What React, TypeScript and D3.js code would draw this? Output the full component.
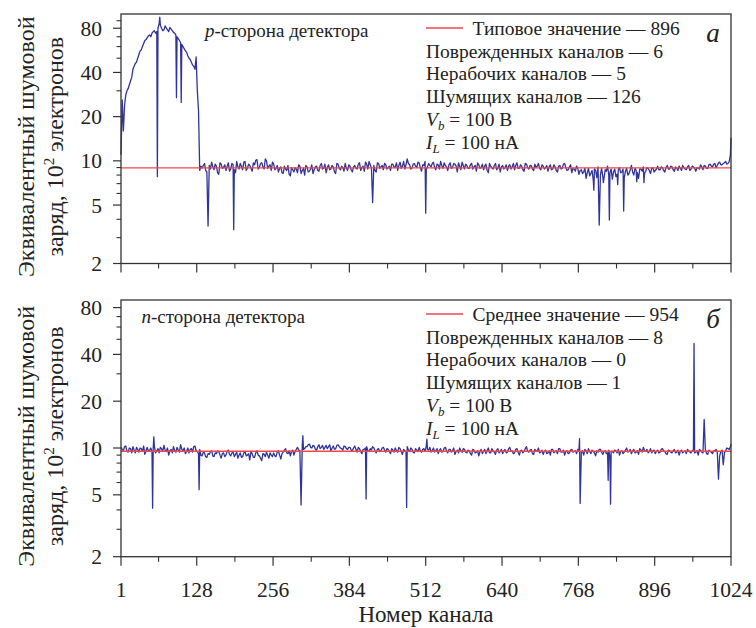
import React from "react";
import * as d3 from "d3";

// ---------- data ----------
// channel numbers 1..1024
// *Base arrays: channels 1, 5, 9, ... (1 + 4*i); *Mid arrays: channels 3, 7, 11, ... (3 + 4*j)
const xTicksMajor = [1, 128, 256, 384, 512, 640, 768, 896, 1024];
const xTicksMinor = [64, 192, 320, 448, 576, 704, 832, 960];
const yTicksMajor = [2, 5, 10, 20, 40, 80];
const yTicksMinor = [3, 4, 6, 7, 8, 9, 30, 50, 60, 70, 90];

// p-side (panel a)
const pBase = [
  11, 16, 28, 31, 35, 42, 46, 50, 56, 60, 66, 69, 72, 74, 77, 76,
  86, 80, 78, 80, 76, 79, 75, 72, 68, 64, 60, 56, 52, 49, 45, 42,
  30, 8.6,
  8.9, 9.6, 8.4, 9.3, 9.8, 8.7, 9.2, 8.1, 9.5, 9.0, 8.6, 9.7, 8.8, 9.4, 8.3, 9.1,
  9.6, 8.7, 9.9, 8.9, 9.3, 8.5, 9.4, 10.2, 9.0, 9.7, 8.8, 10.0, 9.2, 8.6, 9.5, 8.9,
  8.4, 9.1, 8.2, 8.8, 9.3, 7.9, 8.7, 9.0, 8.3, 9.2, 8.6, 8.0, 9.1, 8.5, 9.4, 8.7,
  9.2, 8.5, 9.6, 8.9, 8.3, 9.4, 8.8, 9.1, 8.2, 9.5, 8.7, 9.0, 9.6, 8.6, 9.2, 8.4,
  9.3, 8.8, 9.7, 9.0, 8.5, 9.5, 9.9, 8.9, 9.3, 8.4, 9.6, 9.1, 8.7, 9.4, 9.0, 8.6,
  9.5, 9.1, 8.6, 9.8, 9.2, 8.8, 10.3, 9.4, 8.9, 9.6, 9.0, 9.7, 8.5, 9.3, 8.8, 9.6,
  9.1, 9.8, 8.7, 9.4, 9.9, 8.9, 9.3, 8.6, 9.7, 9.0, 9.5, 8.4, 9.2, 9.8, 8.8, 9.3,
  8.9, 9.6, 9.1, 8.5, 9.4, 9.0, 8.7, 9.5, 8.3, 9.2, 8.8, 9.6, 8.9, 8.4, 9.3, 9.0,
  8.6, 9.4, 9.1, 8.7, 9.7, 8.9, 9.2, 8.5, 9.5, 8.8, 9.3, 8.6, 9.0, 9.6, 8.7, 9.2,
  9.0, 8.5, 9.4, 8.8, 9.1, 8.4, 9.3, 8.9, 9.6, 8.6, 9.1, 8.3, 8.8, 9.2, 8.1, 8.7,
  8.4, 7.6, 8.9, 8.2, 7.4, 8.6, 9.1, 8.0, 7.8, 8.7, 9.2, 8.3, 7.5, 8.8, 8.1, 9.0,
  8.4, 7.7, 8.9, 8.2, 9.3, 8.0, 8.6, 7.6, 8.8, 9.1, 8.5, 8.9, 8.2, 9.0, 8.6, 9.2,
  8.7, 9.0, 8.4, 9.3, 8.8, 9.1, 8.5, 8.9, 9.2, 8.6, 9.0, 8.7, 9.3, 8.8, 9.1, 8.5,
  9.0, 9.4, 8.7, 9.2, 8.9, 9.5, 9.1, 9.6, 9.3, 9.8, 9.4, 9.7, 9.5, 9.9,
];
const pMid = [
  26, 24, 30, 33, 37, 44, 47, 53, 57, 63, 67, 71, 70, 76, 74, 80,
  84, 77, 83, 78, 81, 77, 74, 70, 66, 62, 58, 55, 50, 47, 44, 51,
  22, 9.2,
  9.3, 8.6, 9.9, 8.8, 9.1, 9.5, 8.3, 9.7, 8.9, 9.4, 9.2, 8.5, 9.6, 8.7, 9.9, 8.8,
  9.2, 9.8, 8.6, 9.5, 8.9, 9.7, 10.1, 8.8, 9.6, 9.1, 10.3, 8.9, 9.4, 9.8, 8.7, 9.3,
  8.9, 8.3, 9.2, 8.6, 8.1, 9.0, 8.4, 8.8, 9.4, 8.2, 8.9, 9.3, 8.4, 8.8, 8.2, 9.1,
  8.6, 9.3, 8.8, 9.5, 9.0, 8.7, 9.3, 8.4, 9.6, 8.9, 9.2, 8.5, 8.9, 9.4, 8.7, 9.1,
  8.9, 9.5, 8.6, 9.2, 9.8, 8.8, 9.4, 9.1, 8.6, 9.7, 8.9, 9.3, 9.6, 8.8, 9.2, 9.5,
  9.0, 9.7, 9.3, 8.9, 9.9, 9.4, 9.6, 8.8, 9.5, 9.2, 9.8, 9.0, 9.4, 9.9, 9.1, 9.3,
  9.6, 9.0, 9.5, 8.8, 9.3, 9.7, 9.1, 9.4, 8.9, 9.6, 9.2, 9.7, 8.7, 9.3, 9.5, 8.9,
  9.4, 8.8, 9.3, 9.7, 8.9, 9.5, 9.2, 8.6, 9.6, 9.0, 9.3, 8.7, 9.5, 9.1, 8.8, 9.4,
  9.2, 8.8, 9.6, 9.3, 8.9, 9.4, 8.7, 9.6, 9.0, 9.3, 8.8, 9.5, 9.2, 8.9, 9.4, 8.8,
  9.3, 9.1, 8.7, 9.4, 8.6, 9.2, 8.8, 9.5, 9.0, 8.7, 9.4, 8.9, 8.5, 8.9, 8.6, 8.2,
  8.9, 8.3, 7.9, 8.6, 8.8, 7.7, 8.4, 8.9, 7.6, 8.5, 8.0, 8.8, 8.4, 7.8, 8.7, 8.3,
  8.8, 8.5, 8.0, 8.7, 8.4, 8.9, 8.3, 8.8, 8.5, 8.2, 9.0, 8.6, 8.9, 8.4, 8.8, 8.7,
  9.1, 8.6, 9.0, 8.8, 9.2, 8.7, 9.1, 8.6, 8.9, 9.3, 8.8, 9.1, 8.6, 9.2, 8.9, 9.0,
  8.8, 9.1, 9.3, 8.9, 9.4, 9.2, 9.5, 9.0, 9.7, 9.4, 9.6, 9.9, 9.6, 11,
];
const pSpikeChannels = [62, 66, 94, 102, 147, 190, 423, 512, 794, 803, 810, 820, 834, 844, 866, 878, 1024];
const pSpikeValues = [7.8, 95, 27, 25, 3.6, 3.4, 5.2, 4.4, 6.3, 3.65, 7.1, 3.95, 6.9, 4.55, 7.2, 7.1, 14.3];
const pTypical = 8.96;

// n-side (panel б)
const nBase = [
  10.1, 9.6, 10.3, 9.4, 9.9, 10.2, 9.3, 9.8, 10.0, 9.5, 9.1, 10.1, 9.7, 9.4, 10.2, 9.6,
  9.3, 9.9, 10.4, 9.5, 9.0, 9.8, 10.2, 9.4, 9.7, 10.5, 9.6, 9.2, 10.0, 9.8, 9.4, 10.3,
  9.5, 9.8, 8.9, 9.3, 8.7, 9.1, 9.6, 8.8, 9.2, 9.5, 8.6, 9.3, 9.0, 9.7, 8.9, 9.4,
  9.1, 8.6, 9.3, 8.8, 9.5, 9.0, 8.4, 9.2, 8.7, 9.6, 8.9, 8.3, 9.1, 9.4, 8.6, 9.0,
  9.3, 8.8, 9.6, 8.5, 9.4, 9.9, 9.2, 8.9, 9.7, 9.5, 10.1, 9.6, 10.4, 9.9, 10.2, 10.6,
  10.0, 10.3, 9.7, 10.5, 10.1, 9.8, 10.4, 10.2, 9.6, 10.3, 9.9, 10.5, 10.0, 9.7, 10.2, 9.8,
  10.1, 9.6, 10.3, 9.4, 9.9, 9.2, 9.8, 10.2, 9.5, 9.7, 10.0, 9.3, 9.9, 9.6, 10.1, 9.4,
  9.8, 9.2, 9.7, 10.0, 9.4, 9.9, 9.1, 9.6, 10.2, 9.5, 9.8, 9.3, 9.7, 10.1, 9.4, 9.9,
  10.3, 9.7, 9.4, 10.0, 9.6, 9.2, 9.9, 9.5, 10.1, 9.3, 9.8, 9.6, 9.1, 9.7, 10.0, 9.4,
  9.8, 9.3, 9.6, 9.0, 9.7, 9.4, 8.9, 9.8, 9.5, 9.2, 10.0, 9.3, 9.6, 9.1, 9.9, 9.5,
  9.2, 9.8, 9.4, 10.1, 9.6, 9.3, 9.9, 9.0, 9.7, 9.5, 10.2, 9.4, 9.8, 9.1, 9.6, 10.0,
  9.4, 9.1, 9.7, 9.3, 9.0, 9.8, 9.5, 9.2, 9.9, 9.4, 9.0, 9.6, 9.3, 9.8, 9.5, 9.2,
  9.7, 9.4, 9.0, 9.6, 9.9, 9.2, 9.5, 8.9, 9.4, 9.8, 9.1, 9.6, 9.3, 8.8, 9.5, 9.7,
  9.3, 9.0, 9.6, 9.4, 10.0, 9.5, 9.2, 9.8, 9.4, 9.1, 9.7, 10.1, 9.5, 9.3, 9.9, 9.6,
  9.2, 9.7, 9.4, 9.9, 9.5, 9.1, 9.6, 9.3, 9.8, 9.4, 9.0, 9.7, 9.5, 9.2, 9.6, 9.3,
  9.7, 9.4, 9.0, 9.6, 9.3, 9.8, 9.1, 9.5, 9.2, 9.6, 9.4, 8.9, 9.7, 9.3, 10.0, 9.8,
];
const nMid = [
  9.8, 10.2, 9.5, 10.0, 9.3, 9.7, 10.1, 9.4, 9.9, 10.3, 9.6, 9.5, 10.0, 9.8, 9.3, 9.9,
  10.1, 9.5, 9.7, 10.0, 9.6, 9.3, 9.6, 10.1, 9.4, 9.8, 10.0, 9.5, 9.3, 9.9, 10.2, 9.6,
  9.2, 9.0, 9.4, 8.8, 9.2, 9.5, 8.9, 9.3, 9.6, 9.0, 9.2, 8.8, 9.5, 9.1, 9.3, 8.8,
  9.4, 9.0, 8.7, 9.3, 8.9, 9.2, 9.5, 8.7, 9.3, 9.0, 8.6, 9.2, 8.8, 9.0, 9.3, 8.8,
  8.9, 9.4, 9.0, 9.2, 9.7, 9.3, 9.6, 9.5, 9.0, 9.8, 9.7, 10.0, 9.8, 10.2, 10.5, 10.1,
  10.4, 9.8, 10.2, 9.9, 10.4, 10.1, 9.9, 10.5, 10.0, 9.8, 10.4, 10.2, 9.9, 10.3, 9.9, 10.1,
  9.7, 10.0, 9.8, 10.1, 9.5, 9.8, 10.0, 9.6, 9.9, 10.2, 9.6, 9.8, 9.5, 10.0, 9.7, 9.9,
  9.5, 9.9, 9.4, 9.6, 10.1, 9.5, 9.8, 9.4, 9.7, 10.0, 9.4, 9.9, 9.5, 9.6, 9.8, 9.5,
  9.8, 10.1, 9.6, 9.4, 9.9, 9.7, 9.4, 10.0, 9.6, 9.8, 9.4, 10.0, 9.5, 9.3, 9.6, 9.9,
  9.4, 9.7, 9.2, 9.8, 9.3, 9.6, 9.5, 9.2, 9.8, 9.6, 9.3, 9.9, 9.4, 9.7, 9.3, 9.8,
  9.6, 9.3, 9.9, 9.5, 9.2, 9.8, 9.4, 9.6, 9.3, 9.9, 9.5, 9.7, 9.2, 9.8, 9.5, 9.3,
  9.7, 9.5, 9.2, 9.6, 9.8, 9.3, 9.6, 9.9, 9.4, 9.7, 9.5, 9.2, 9.7, 9.4, 9.6, 9.8,
  9.3, 9.6, 9.8, 9.2, 9.5, 9.7, 9.3, 9.6, 9.8, 9.4, 9.5, 9.2, 9.7, 9.5, 9.3, 9.6,
  9.8, 9.5, 9.2, 9.7, 9.4, 9.8, 9.6, 9.3, 9.6, 9.9, 9.4, 9.6, 9.8, 9.5, 9.3, 9.7,
  9.5, 9.3, 9.8, 9.6, 9.2, 9.7, 9.4, 9.6, 9.3, 9.7, 9.5, 9.3, 9.6, 9.8, 9.4, 9.6,
  9.3, 9.6, 9.8, 9.4, 9.5, 9.2, 9.7, 9.4, 9.6, 9.8, 9.3, 9.5, 9.2, 9.6, 9.9, 10.2,
];
const nSpikeChannels = [54, 56, 132, 303, 306, 412, 480, 514, 770, 771, 818, 822, 962, 979, 1003, 1011, 1024];
const nSpikeValues = [4.1, 11.8, 5.4, 4.3, 12.0, 4.7, 4.15, 11.4, 11.5, 4.4, 6.2, 4.35, 47, 15.3, 6.3, 7.8, 10.6];
const nMean = 9.54;

const pLegend = [
  "Типовое значение — 896",
  "Поврежденных каналов — 6",
  "Нерабочих каналов — 5",
  "Шумящих каналов — 126",
];
const nLegend = [
  "Среднее значение — 954",
  "Поврежденных каналов — 8",
  "Нерабочих каналов — 0",
  "Шумящих каналов — 1",
];

// ---------- helpers ----------
function buildSeries(base: number[], mid: number[], spikeCh: number[], spikeVal: number[]) {
  const m = new Map<number, number>();
  base.forEach((v, i) => m.set(1 + 4 * i, v));
  mid.forEach((v, j) => m.set(3 + 4 * j, v));
  spikeCh.forEach((c, i) => m.set(c, spikeVal[i]));
  return Array.from(m.entries()).sort((a, b) => a[0] - b[0]) as [number, number][];
}

const FONT =
  "'Liberation Serif', 'DejaVu Serif', 'Noto Serif', 'FreeSerif', 'Times New Roman', Times, serif";
const LINE = "#30349a";
const RED = "#ef4650";
const AXIS = "#333";

const x = d3.scaleLinear().domain([1, 1024]).range([121, 731]);

type PanelProps = {
  top: number;
  bottom: number;
  yMax: number;
  series: [number, number][];
  refValue: number;
  legend: string[];
  letter: string;
  side: string;
  sideX: number;
  showXLabels: boolean;
};

function Panel(p: PanelProps) {
  const y = d3.scaleLog().domain([2, p.yMax]).range([p.bottom, p.top]);
  const line = d3
    .line<[number, number]>()
    .x((d) => x(d[0]))
    .y((d) => y(d[1]));
  const left = x(1);
  const right = x(1024);
  const rowY = (i: number) => p.top + 14 + i * 22.8;
  const fs = 19.5;
  return (
    <g>
      <path d={line(p.series) || ""} fill="none" stroke={LINE} strokeWidth={1.3} strokeLinejoin="round" />
      <line x1={left} x2={right} y1={y(p.refValue)} y2={y(p.refValue)} stroke={RED} strokeWidth={1.4} />
      <rect x={left} y={p.top} width={right - left} height={p.bottom - p.top} fill="none" stroke={AXIS} strokeWidth={1.3} />
      {yTicksMajor.map((t) => (
        <g key={"ym" + t}>
          <line x1={left - 8} x2={left} y1={y(t)} y2={y(t)} stroke={AXIS} strokeWidth={1.2} />
          <text x={102} y={y(t)} dy="0.35em" textAnchor="end" fontFamily={FONT} fontSize={21.5} fill="#222">
            {t}
          </text>
        </g>
      ))}
      {yTicksMinor
        .filter((t) => t < p.yMax)
        .map((t) => (
          <line key={"yn" + t} x1={left - 4.5} x2={left} y1={y(t)} y2={y(t)} stroke={AXIS} strokeWidth={1.1} />
        ))}
      {xTicksMajor.map((t) => (
        <g key={"xm" + t}>
          <line x1={x(t)} x2={x(t)} y1={p.bottom} y2={p.bottom + 9} stroke={AXIS} strokeWidth={1.2} />
          {p.showXLabels && (
            <text x={x(t)} y={p.bottom + 40} textAnchor="middle" fontFamily={FONT} fontSize={21.5} fill="#222">
              {t}
            </text>
          )}
        </g>
      ))}
      {xTicksMinor.map((t) => (
        <line key={"xn" + t} x1={x(t)} x2={x(t)} y1={p.bottom} y2={p.bottom + 5} stroke={AXIS} strokeWidth={1.1} />
      ))}
      {/* legend */}
      <line x1={426} x2={463} y1={rowY(0)} y2={rowY(0)} stroke={RED} strokeWidth={1.5} />
      <text x={472.5} y={rowY(0) + 6.8} fontFamily={FONT} fontSize={fs} fill="#222">
        {p.legend[0]}
      </text>
      {p.legend.slice(1).map((s, i) => (
        <text key={s} x={426} y={rowY(i + 1) + 6.8} fontFamily={FONT} fontSize={fs} fill="#222">
          {s}
        </text>
      ))}
      <text x={426} y={rowY(4) + 6.8} fontFamily={FONT} fontSize={fs} fill="#222">
        <tspan fontStyle="italic">V</tspan>
        <tspan fontStyle="italic" fontSize={13} dy={4}>
          b
        </tspan>
        <tspan dy={-4}> = 100 В</tspan>
      </text>
      <text x={426} y={rowY(5) + 6.8} fontFamily={FONT} fontSize={fs} fill="#222">
        <tspan fontStyle="italic">I</tspan>
        <tspan fontStyle="italic" fontSize={13} dy={4}>
          L
        </tspan>
        <tspan dy={-4}> = 100 нА</tspan>
      </text>
      <text x={713} y={p.top + 28} textAnchor="middle" fontFamily={FONT} fontStyle="italic" fontSize={27} fill="#222">
        {p.letter}
      </text>
      <text x={p.sideX} y={p.top + 23} fontFamily={FONT} fontSize={19} fill="#222">
        <tspan fontStyle="italic">{p.side}</tspan>
        <tspan>-сторона детектора</tspan>
      </text>
      {/* y title */}
      <g transform={`translate(0, ${(p.top + p.bottom) / 2 + 8}) rotate(-90)`}>
        <text x={0} y={34} textAnchor="middle" fontFamily={FONT} fontSize={24} fill="#222">
          Эквивалентный шумовой
        </text>
        <text x={0} y={63} textAnchor="middle" fontFamily={FONT} fontSize={24} fill="#222">
          <tspan>заряд, 10</tspan>
          <tspan fontSize={15} dy={-9}>
            2
          </tspan>
          <tspan dy={9}> электронов</tspan>
        </text>
      </g>
    </g>
  );
}

export default function App() {
  const pSeries = buildSeries(pBase, pMid, pSpikeChannels, pSpikeValues);
  const nSeries = buildSeries(nBase, nMid, nSpikeChannels, nSpikeValues);
  return (
    <svg width={756} height={628} style={{ position: "absolute", left: 0, top: 0, background: "#fff" }}>
      <rect width={756} height={628} fill="#fff" />
      <Panel
        top={14}
        bottom={263.5}
        yMax={100}
        series={pSeries}
        refValue={pTypical}
        legend={pLegend}
        letter="a"
        side="p"
        sideX={205}
        showXLabels={false}
      />
      <Panel
        top={300}
        bottom={556.7}
        yMax={89.5}
        series={nSeries}
        refValue={nMean}
        legend={nLegend}
        letter="б"
        side="n"
        sideX={141.5}
        showXLabels={true}
      />
      <text x={426} y={622} textAnchor="middle" fontFamily={FONT} fontSize={23} fill="#222">
        Номер канала
      </text>
    </svg>
  );
}
